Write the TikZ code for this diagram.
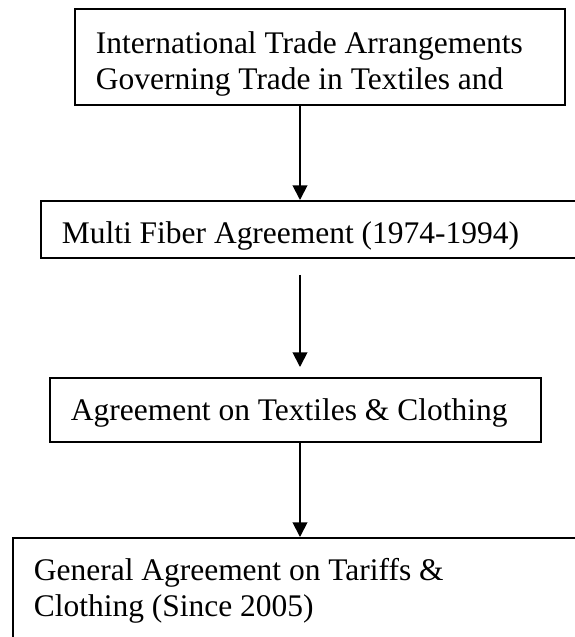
\documentclass[tikz,border=0pt]{standalone}
\usepackage{fontspec}
\setmainfont{Liberation Serif}
\usetikzlibrary{arrows.meta}

\begin{document}
\begin{tikzpicture}[x=0.75pt,y=-0.75pt,
        flowbox/.style={draw,line width=1.4pt,anchor=north west,align=flush left,
            inner ysep=0pt,font=\fontsize{23.6}{27}\selectfont},
        flowarrow/.style={line width=1.4pt,-{Triangle[length=11pt,width=11pt]}}]
\useasboundingbox (0,0) rectangle (575,637);
\clip (0,0) rectangle (575,637);
\coordinate (axis) at (300,0);

\node[flowbox,inner xsep=15.75pt,text width=336pt,text height=33.75pt,text depth=38.25pt] (intl) at (74,8)
    {International Trade Arrangements\\Governing Trade in Textiles and};
\node[flowbox,inner xsep=15.75pt,text width=381pt,text height=32.25pt,text depth=10.5pt] (mfa) at (40,200)
    {Multi Fiber Agreement (1974-1994)};
\node[flowbox,inner xsep=15.75pt,text width=336.75pt,text height=32.25pt,text depth=15.75pt] (atc) at (49,377)
    {Agreement on Textiles \& Clothing};
\node[flowbox,inner xsep=15.75pt,text width=424.5pt,text height=32.25pt,text depth=75pt] (gatt) at (12,537)
    {General Agreement on Tariffs \&\\Clothing (Since 2005)};

\draw[flowarrow] (intl.south -| axis) -- (mfa.north -| axis);
\draw[flowarrow,shorten <=12pt,shorten >=7.5pt] (mfa.south -| axis) -- (atc.north -| axis);
\draw[flowarrow] (atc.south -| axis) -- (gatt.north -| axis);

\end{tikzpicture}
\end{document}
